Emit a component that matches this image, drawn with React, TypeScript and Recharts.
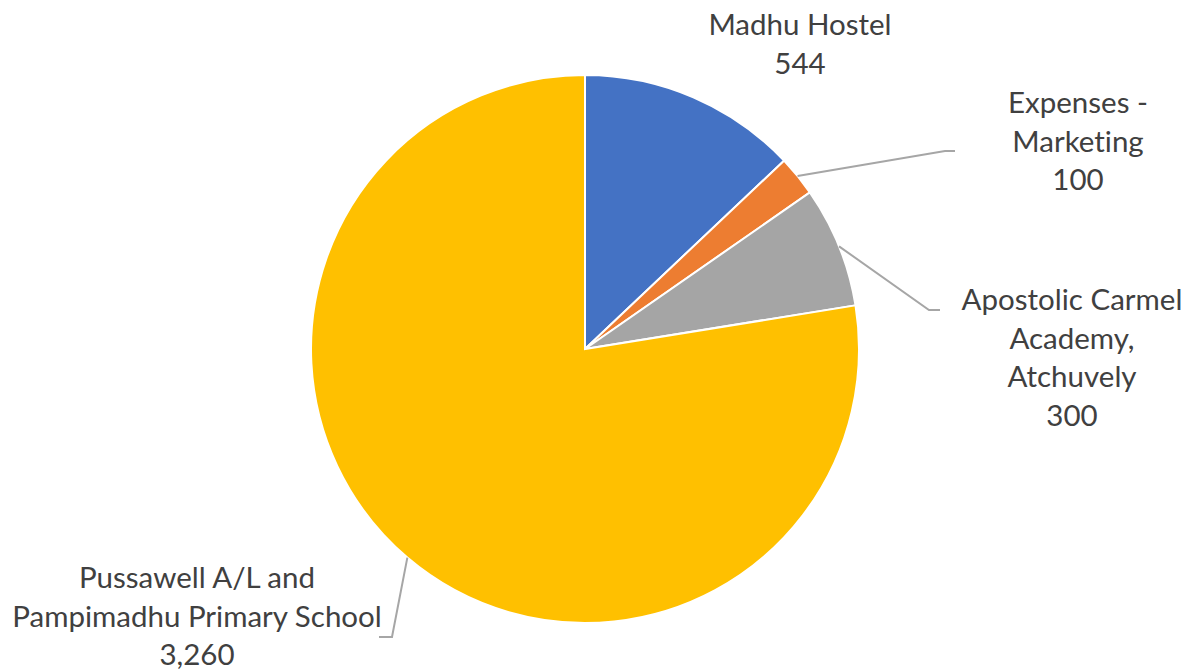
import { Cell, Pie, PieChart } from "recharts";

const names = [
  ["Madhu Hostel"],
  ["Expenses -", "Marketing"],
  ["Apostolic Carmel", "Academy,", "Atchuvely"],
  ["Pussawell A/L and", "Pampimadhu Primary School"],
];
const values = [544, 100, 300, 3260];
const colors = ["#4472C4", "#ED7D31", "#A5A5A5", "#FFC000"];

// label placement relative to pie centre: text x, first baseline, leader elbow and end
const labelLayout = [
  { tx: 215, ty: -314, elbow: null, end: null },
  { tx: 493, ty: -236, elbow: [360, -198], end: [370, -198] },
  { tx: 487, ty: -39, elbow: [344, -39], end: [355, -39] },
  { tx: -388, ty: 239, elbow: [-193, 288], end: [-206, 288] },
];

const data = values.map((v, i) => ({ name: names[i].join(" "), value: v }));

const RAD = Math.PI / 180;
const LINE_H = 38.5;

function renderLabel(props: any) {
  const { cx, cy, midAngle, outerRadius, index, value } = props;
  const lay = labelLayout[index];
  const lines = [...names[index], value.toLocaleString("en-US")];
  const sx = cx + outerRadius * Math.cos(midAngle * RAD);
  const sy = cy - outerRadius * Math.sin(midAngle * RAD);
  return (
    <g key={`lbl-${index}`}>
      {lay.elbow && lay.end && (
        <polyline
          points={`${sx},${sy} ${cx + lay.elbow[0]},${cy + lay.elbow[1]} ${cx + lay.end[0]},${cy + lay.end[1]}`}
          fill="none"
          stroke="#A6A6A6"
          strokeWidth={2}
        />
      )}
      <text
        x={cx + lay.tx}
        y={cy + lay.ty}
        textAnchor="middle"
        fill="#404040"
        fontSize={29.5}
        fontFamily="Lato, 'Open Sans', sans-serif"
        style={{ fontVariantLigatures: "none" }}
      >
        {lines.map((l, i) => (
          <tspan key={i} x={cx + lay.tx} y={cy + lay.ty + i * LINE_H}>
            {l}
          </tspan>
        ))}
      </text>
    </g>
  );
}

export default function App() {
  return (
    <div style={{ position: "absolute", left: 0, top: 0, width: 1192, height: 671, background: "#fff" }}>
      <PieChart width={1192} height={671} margin={{ top: 0, right: 0, bottom: 0, left: 0 }}>
        <Pie
          data={data}
          dataKey="value"
          nameKey="name"
          cx={585}
          cy={349}
          outerRadius={274}
          startAngle={90}
          endAngle={-270}
          stroke="#ffffff"
          strokeWidth={2}
          label={renderLabel}
          labelLine={false}
          isAnimationActive={false}
        >
          {data.map((d, i) => (
            <Cell key={d.name} fill={colors[i]} />
          ))}
        </Pie>
      </PieChart>
    </div>
  );
}
